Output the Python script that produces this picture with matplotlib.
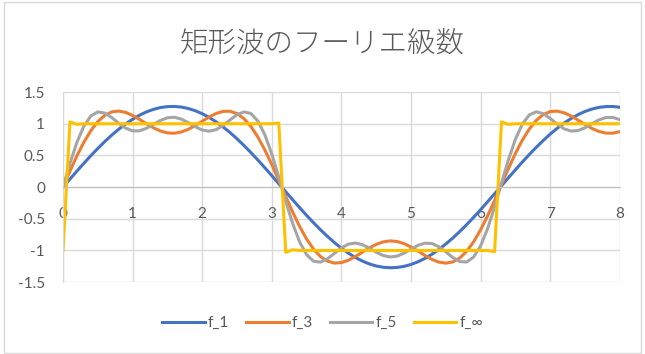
import matplotlib
matplotlib.use("Agg")
import matplotlib.pyplot as plt
from matplotlib.patches import Rectangle

plt.rcParams['font.family'] = ['Lato', 'Noto Sans CJK JP', 'DejaVu Sans']

# sample points, step 0.1
x = [i / 10 for i in range(81)]

f_1 = [0, 0.127, 0.253, 0.376, 0.496, 0.610, 0.719, 0.820, 0.913, 0.997,
       1.071, 1.135, 1.187, 1.227, 1.255, 1.270, 1.273, 1.263, 1.240, 1.205,
       1.158, 1.099, 1.029, 0.949, 0.860, 0.762, 0.656, 0.544, 0.427, 0.305,
       0.180, 0.053, -0.074, -0.201, -0.325, -0.447, -0.563, -0.675, -0.779, -0.876,
       -0.964, -1.042, -1.110, -1.167, -1.212, -1.245, -1.265, -1.273, -1.268, -1.251,
       -1.221, -1.179, -1.125, -1.060, -0.984, -0.898, -0.804, -0.701, -0.592, -0.476,
       -0.356, -0.232, -0.106, 0.021, 0.148, 0.274, 0.397, 0.515, 0.629, 0.736,
       0.837, 0.928, 1.011, 1.083, 1.144, 1.194, 1.232, 1.258, 1.271, 1.272,
       1.260]

f_3 = [0, 0.253, 0.493, 0.709, 0.891, 1.034, 1.132, 1.187, 1.200, 1.179,
       1.131, 1.068, 0.999, 0.935, 0.885, 0.855, 0.850, 0.870, 0.912, 0.971,
       1.039, 1.106, 1.162, 1.195, 1.197, 1.160, 1.080, 0.956, 0.789, 0.586,
       0.355, 0.106, -0.148, -0.395, -0.622, -0.820, -0.980, -1.097, -1.169, -1.199,
       -1.191, -1.154, -1.096, -1.028, -0.960, -0.904, -0.865, -0.849, -0.859, -0.892,
       -0.945, -1.010, -1.079, -1.141, -1.185, -1.200, -1.181, -1.119, -1.013, -0.863,
       -0.674, -0.454, -0.211, 0.043, 0.294, 0.531, 0.742, 0.918, 1.054, 1.144,
       1.192, 1.199, 1.172, 1.122, 1.056, 0.988, 0.925, 0.878, 0.852, 0.851,
       0.875]

f_5 = [0, 0.375, 0.707, 0.963, 1.123, 1.186, 1.168, 1.097, 1.007, 0.930,
       0.887, 0.888, 0.928, 0.990, 1.052, 1.094, 1.102, 1.073, 1.017, 0.952,
       0.901, 0.882, 0.907, 0.972, 1.060, 1.143, 1.187, 1.161, 1.042, 0.824,
       0.520, 0.158, -0.222, -0.576, -0.867, -1.068, -1.171, -1.184, -1.131, -1.045,
       -0.959, -0.900, -0.883, -0.907, -0.963, -1.028, -1.080, -1.103, -1.089, -1.043,
       -0.979, -0.919, -0.885, -0.891, -0.941, -1.022, -1.112, -1.176, -1.182, -1.103,
       -0.926, -0.656, -0.314, 0.064, 0.434, 0.756, 0.997, 1.140, 1.188, 1.159,
       1.083, 0.993, 0.920, 0.884, 0.892, 0.937, 1.001, 1.061, 1.098, 1.099,
       1.065]

f_inf = [-1.0, 1.03, 0.99, 1.0, 1.0, 1.0, 1.0, 1.0, 1.0, 1.0,
         1.0, 1.0, 1.0, 1.0, 1.0, 1.0, 1.0, 1.0, 1.0, 1.0,
         1.0, 1.0, 1.0, 1.0, 1.0, 1.0, 1.0, 1.0, 1.0, 1.0,
         1.0, 1.01, -1.03, -0.99, -1.0, -1.0, -1.0, -1.0, -1.0, -1.0,
         -1.0, -1.0, -1.0, -1.0, -1.0, -1.0, -1.0, -1.0, -1.0, -1.0,
         -1.0, -1.0, -1.0, -1.0, -1.0, -1.0, -1.0, -1.0, -1.0, -1.0,
         -1.0, -1.0, -1.02, 1.03, 0.99, 1.0, 1.0, 1.0, 1.0, 1.0,
         1.0, 1.0, 1.0, 1.0, 1.0, 1.0, 1.0, 1.0, 1.0, 1.0,
         1.0]

names = ["f_1", "f_3", "f_5", "f_\u221e"]
colors = ["#4472C4", "#ED7D31", "#A5A5A5", "#FFC000"]
xticks = [0, 1, 2, 3, 4, 5, 6, 7, 8]
yticks = [-1.5, -1, -0.5, 0, 0.5, 1, 1.5]
ytick_labels = ["-1.5", "-1", "-0.5", "0", "0.5", "1", "1.5"]

txt = "#595959"
fig = plt.figure(figsize=(6.45, 3.54), dpi=100)
ax = fig.add_axes([0.0977, 0.203, 0.8633, 0.537])

for y, name, c in zip([f_1, f_3, f_5, f_inf], names, colors):
    ax.plot(x, y, color=c, lw=2.2, label=name, solid_joinstyle="round")

ax.set_xlim(0, 8)
ax.set_ylim(-1.5, 1.5)
ax.set_xticks(xticks)
ax.set_xticklabels([str(t) for t in xticks])
ax.set_yticks(yticks)
ax.set_yticklabels(ytick_labels)
ax.grid(color="#D9D9D9", lw=1)
ax.set_axisbelow(True)
for s in ["top", "right"]:
    ax.spines[s].set_visible(False)
ax.spines["bottom"].set_position(("data", 0))
ax.spines["left"].set_position(("data", 0))
ax.spines["bottom"].set_color("#BFBFBF")
ax.spines["left"].set_color("#D9D9D9")
ax.tick_params(axis="x", length=0, pad=14, labelsize=11, labelcolor=txt)
ax.tick_params(axis="y", length=0, pad=13, labelsize=11, labelcolor=txt)

fig.text(0.5, 0.878, "矩形波のフーリエ級数", ha="center", va="center",
         fontsize=20.5, fontweight="light", color=txt,
         family=["Noto Sans CJK JP", "DejaVu Sans"])

leg = fig.legend(loc="center", bbox_to_anchor=(0.5, 0.088), ncol=4, frameon=False,
                 handlelength=2.8, handletextpad=0.2, columnspacing=1.1, fontsize=11)
for t in leg.get_texts():
    t.set_color(txt)

fig.patches.append(Rectangle((0.006, 0.004), 0.988, 0.99, transform=fig.transFigure,
                             fill=False, edgecolor="#D9D9D9", lw=1))

fig.savefig("out.png", dpi=100)
